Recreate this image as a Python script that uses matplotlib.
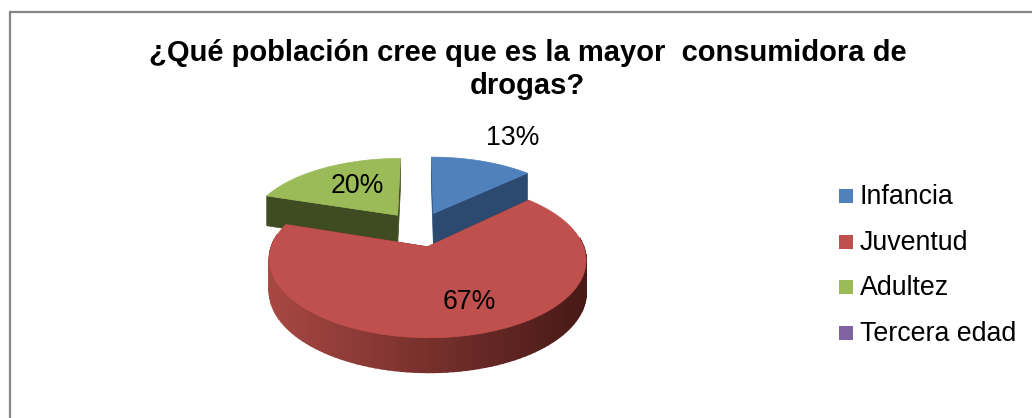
import numpy as np
import matplotlib

matplotlib.use("Agg")
import matplotlib.pyplot as plt
from matplotlib.patches import Polygon, Rectangle

plt.rcParams["font.family"] = ["Liberation Sans", "DejaVu Sans"]

title_lines = ["¿Qué población cree que es la mayor  consumidora de", "drogas?"]
categories = ["Infancia", "Juventud", "Adultez", "Tercera edad"]
values = [13, 67, 20, 0]
pct_labels = ["13%", "67%", "20%", ""]

face_colors = ["#4F81BD", "#C0504D", "#9BBB59", "#8064A2"]
wall_colors = ["#2C4A70", "#722E2C", "#3F4B20", "#4A3A60"]

# Projection of the tilted disc onto the canvas (pixel units)
cx, cy = 419, 229
scale_x, scale_y = 150, 70
persp = 0.16
explode = 0.25
depth = 31


def project(u, v, down=0.0):
    s = 1 / (1 - persp * v)
    return cx + scale_x * u * s, cy + scale_y * v * s + down * np.sqrt(s)


def slice_outline(start, end, mid, down=0.0):
    # theta runs clockwise from 12 o'clock
    off_u = explode * np.sin(mid)
    off_v = -explode * np.cos(mid)
    theta = np.linspace(start, end, 120)
    arc = project(off_u + np.sin(theta), off_v - np.cos(theta), down)
    apex = project(off_u, off_v, down)
    return apex, arc, theta


def draw_slice(ax, start, end, face, wall, gradient=None):
    mid = (start + end) / 2
    apex, arc, theta = slice_outline(start, end, mid)
    apex_d, arc_d, _ = slice_outline(start, end, mid, depth)

    # straight cut walls
    for x, y, xd, yd in [
        (arc[0][0], arc[1][0], arc_d[0][0], arc_d[1][0]),
        (arc[0][-1], arc[1][-1], arc_d[0][-1], arc_d[1][-1]),
    ]:
        pts = [apex, (x, y), (xd, yd), apex_d]
        ax.add_patch(Polygon(pts, closed=True, fc=wall, ec=wall, lw=0.5))

    # rim, split into strips so it can be shaded across the width
    for i in range(len(theta) - 1):
        if np.cos(theta[i]) > 0.15:
            continue
        color = wall
        if gradient is not None:
            t = (arc[0][i] - arc[0].min()) / (arc[0].max() - arc[0].min())
            color = tuple(np.array(gradient[0]) * (1 - t) + np.array(gradient[1]) * t)
        pts = [
            (arc[0][i], arc[1][i]),
            (arc[0][i + 1], arc[1][i + 1]),
            (arc_d[0][i + 1], arc_d[1][i + 1]),
            (arc_d[0][i], arc_d[1][i]),
        ]
        ax.add_patch(Polygon(pts, closed=True, fc=color, ec=color, lw=1.2))

    top = [apex] + list(zip(arc[0], arc[1]))
    ax.add_patch(Polygon(top, closed=True, fc=face, ec=face, lw=0.5))


fig = plt.figure(figsize=(10.32, 4.18), dpi=100)
ax = fig.add_axes([0, 0, 1, 1])
ax.set_xlim(0, 1032)
ax.set_ylim(418, 0)
ax.axis("off")

# Chart frame, open towards the right and bottom edges
ax.plot([10, 10, 1032], [418, 12, 12], color="#868686", lw=1.6, solid_joinstyle="miter")

# Slice angles from the values
total = sum(values)
edges = np.cumsum([0] + values) / total * 2 * np.pi
red_rim = ((0.66, 0.28, 0.26), (0.28, 0.10, 0.09))

# Back slices first, the large front slice on top
for i in [2, 0, 1]:
    draw_slice(
        ax,
        edges[i],
        edges[i + 1],
        face_colors[i],
        wall_colors[i],
        gradient=red_rim if i == 1 else None,
    )

# Percent labels
label_pos = [(513, 138), (469, 302), (357, 186)]
for text, (x, y) in zip(pct_labels, label_pos):
    ax.text(x, y, text, fontsize=19.2, ha="center", va="center", color="black")

# Title
ax.text(527.5, 53, title_lines[0], fontsize=21, fontweight="bold", ha="center", va="center")
ax.text(527.5, 86, title_lines[1], fontsize=21, fontweight="bold", ha="center", va="center")

# Legend
legend_y = [196, 242, 287, 333]
for name, color, y in zip(categories, face_colors, legend_y):
    ax.add_patch(Rectangle((839, y - 7), 14, 14, fc=color, ec="none"))
    ax.text(860, y + 1, name, fontsize=19.3, ha="left", va="center", color="black")

fig.savefig("out.png", dpi=100)
